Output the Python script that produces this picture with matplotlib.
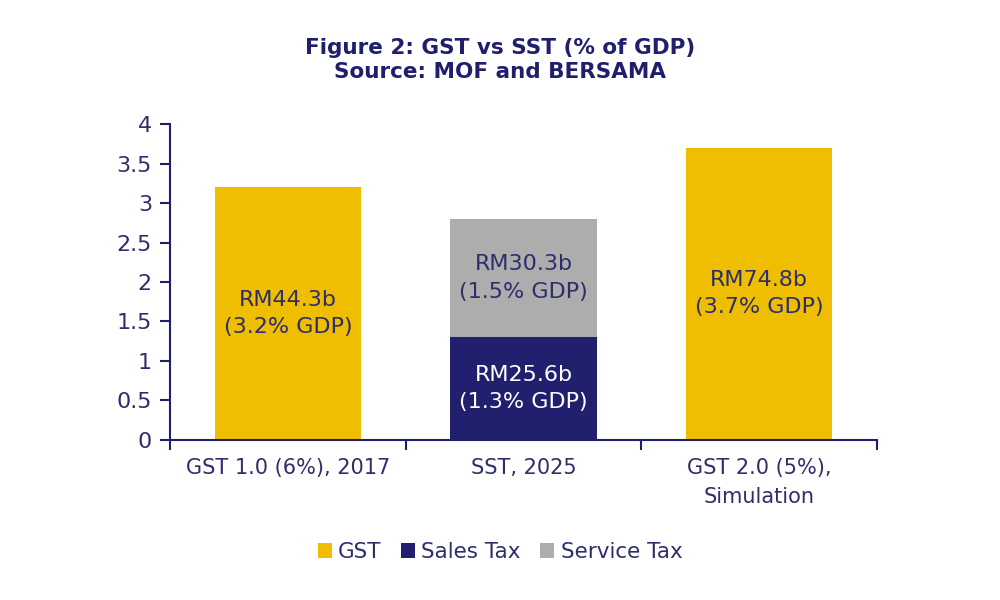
import numpy as np
import matplotlib
matplotlib.use("Agg")
import matplotlib.pyplot as plt

# Données (% du PIB)
categories = ["GST 1.0 (6%), 2017", "SST, 2025", "GST 2.0 (5%),\nSimulation"]
gst = [3.2, 0.0, 3.7]
sales_tax = [0.0, 1.3, 0.0]
service_tax = [0.0, 1.5, 0.0]
labels_gst = ["RM44.3b\n(3.2% GDP)", "", "RM74.8b\n(3.7% GDP)"]
labels_sales = ["", "RM25.6b\n(1.3% GDP)", ""]
labels_service = ["", "RM30.3b\n(1.5% GDP)", ""]

navy = "#1f1f6e"
txt = "#2e2e6b"
c_gst = "#efbe00"
c_sales = "#20206e"
c_serv = "#adadad"

plt.rcParams['font.family'] = ['DejaVu Sans']

fig = plt.figure(figsize=(10, 6), dpi=100)
ax = fig.add_axes([0.17, 0.2667, 0.707, 0.5266])

x = np.arange(len(categories))
w = 0.62
g = np.array(gst)
s = np.array(sales_tax)
v = np.array(service_tax)

ax.bar(x, g, w, color=c_gst, label="GST")
ax.bar(x, s, w, color=c_sales, label="Sales Tax")
ax.bar(x, v, w, bottom=s, color=c_serv, label="Service Tax")

fs_in = 16
for i in range(len(x)):
    if labels_gst[i]:
        ax.text(x[i], g[i] / 2, labels_gst[i], ha="center", va="center",
                color=txt, fontsize=fs_in, linespacing=1.45)
    if labels_sales[i]:
        ax.text(x[i], s[i] / 2, labels_sales[i], ha="center", va="center",
                color="white", fontsize=fs_in, linespacing=1.45)
    if labels_service[i]:
        ax.text(x[i], s[i] + v[i] / 2, labels_service[i], ha="center", va="center",
                color=txt, fontsize=fs_in, linespacing=1.45)

ax.set_xlim(-0.5, 2.5)
ax.set_ylim(0, 4)
ax.set_yticks(np.arange(0, 4.01, 0.5))
ax.set_yticklabels(["0", "0.5", "1", "1.5", "2", "2.5", "3", "3.5", "4"])
ax.set_xticks(x)
ax.set_xticklabels(categories, linespacing=1.55)
ax.tick_params(axis="x", length=0, pad=13, labelsize=15, labelcolor=txt)
ax.set_xticks([-0.5, 0.5, 1.5, 2.5], minor=True)
ax.tick_params(axis="x", which="minor", length=7, width=1.5, color=navy, direction="out")
ax.tick_params(axis="y", length=7, width=1.5, color=navy, labelsize=16, labelcolor=txt, pad=6)

for sp in ["top", "right"]:
    ax.spines[sp].set_visible(False)
for sp in ["left", "bottom"]:
    ax.spines[sp].set_color(navy)
    ax.spines[sp].set_linewidth(1.5)

fig.text(0.5, 0.9, "Figure 2: GST vs SST (% of GDP)\nSource: MOF and BERSAMA",
         ha="center", va="center", fontsize=15.5, fontweight="bold", color=navy,
         linespacing=1.25)

leg = fig.legend(loc="center", bbox_to_anchor=(0.5, 0.08), ncol=3, frameon=False,
                 fontsize=15.5, handlelength=0.65, handleheight=0.65, handletextpad=0.3,
                 columnspacing=0.9)
for t in leg.get_texts():
    t.set_color(txt)

fig.savefig("out.png", dpi=100, facecolor="white")
